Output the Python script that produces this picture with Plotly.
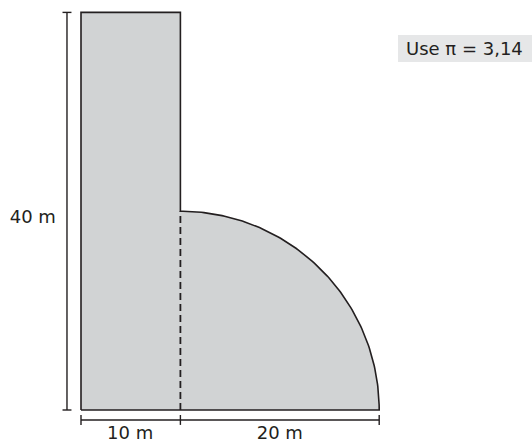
import numpy as np
import plotly.graph_objects as go

# Dimensions (metres)
rect_width = 10
rect_height = 40
radius = 20
dim_labels = ["10 m", "20 m", "40 m"]
note_text = "Use π = 3,14"

FILL = "#d1d3d4"
INK = "#231f20"
FONT = "DejaVu Sans"
W, H = 532, 443

theta = np.linspace(np.pi / 2, 0, 120)
arc_x = rect_width + radius * np.cos(theta)
arc_y = radius * np.sin(theta)

shape_x = [0, 0, rect_width, rect_width] + list(arc_x) + [0]
shape_y = [0, rect_height, rect_height, radius] + list(arc_y) + [0]

fig = go.Figure()
fig.add_trace(go.Scatter(x=shape_x, y=shape_y, mode="lines", fill="toself",
                         fillcolor=FILL, line=dict(color=INK, width=1.6),
                         hoverinfo="skip", showlegend=False))
# dashed divider
fig.add_trace(go.Scatter(x=[rect_width, rect_width], y=[0, radius], mode="lines",
                         line=dict(color=INK, width=1.8, dash="7px,4px"),
                         hoverinfo="skip", showlegend=False))

# vertical dimension line
vx = -1.41
cap = 0.45
fig.add_trace(go.Scatter(x=[vx, vx], y=[0, rect_height], mode="lines",
                         line=dict(color=INK, width=1.4), hoverinfo="skip", showlegend=False))
for yy in [0, rect_height]:
    fig.add_trace(go.Scatter(x=[vx - cap, vx + cap], y=[yy, yy], mode="lines",
                             line=dict(color=INK, width=1.4), hoverinfo="skip", showlegend=False))

# horizontal dimension line
hy = -1.0
tk = 0.5
total = rect_width + radius
fig.add_trace(go.Scatter(x=[0, total], y=[hy, hy], mode="lines",
                         line=dict(color=INK, width=1.4), hoverinfo="skip", showlegend=False))
for xx in [0, rect_width, total]:
    fig.add_trace(go.Scatter(x=[xx, xx], y=[hy - tk, hy + tk], mode="lines",
                             line=dict(color=INK, width=1.4), hoverinfo="skip", showlegend=False))

# labels
fig.add_trace(go.Scatter(
    x=[rect_width / 2 - 0.05, rect_width + radius / 2, -4.85],
    y=[-2.5, -2.5, rect_height / 2 - 0.75],
    mode="text", text=dim_labels,
    textfont=dict(family=FONT, size=18, color=INK),
    hoverinfo="skip", showlegend=False))

# note box
fig.add_shape(type="rect", xref="paper", yref="paper",
              x0=398 / W, x1=1.0, y0=(H - 62) / H, y1=(H - 35) / H,
              fillcolor="#e6e7e8", line=dict(width=0), layer="below")
fig.add_annotation(xref="paper", yref="paper", x=464 / W, y=(H - 48.5) / H,
                   xanchor="center", yanchor="middle", text=note_text, showarrow=False,
                   font=dict(family=FONT, size=18, color=INK))

scale = 9.94
fig.update_xaxes(range=[-81 / scale, (W - 81) / scale], visible=False, fixedrange=True)
fig.update_yaxes(range=[-33 / scale, 410 / scale], visible=False, fixedrange=True)
fig.update_layout(width=W, height=H, margin=dict(l=0, r=0, t=0, b=0),
                  plot_bgcolor="white", paper_bgcolor="white", showlegend=False)

fig.write_html("out.html", config={"displayModeBar": False},
               post_script="document.body.style.margin='0';document.body.style.overflow='hidden';")
